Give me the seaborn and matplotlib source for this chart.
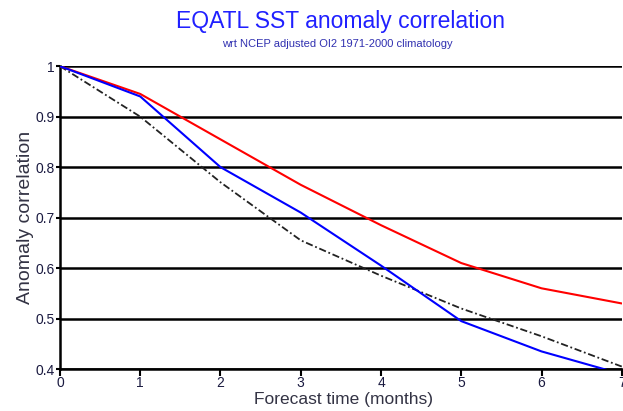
import matplotlib
matplotlib.use("Agg")
import matplotlib.pyplot as plt
import seaborn as sns
import pandas as pd

months = [0, 1, 2, 3, 4, 5, 6, 7]
red_vals = [1.0, 0.945, 0.855, 0.765, 0.685, 0.61, 0.56, 0.53]
blue_vals = [1.0, 0.94, 0.80, 0.71, 0.605, 0.495, 0.435, 0.39]
black_vals = [1.0, 0.90, 0.77, 0.655, 0.585, 0.52, 0.465, 0.405]
yticks = [0.4, 0.5, 0.6, 0.7, 0.8, 0.9, 1.0]
ytick_labels = ["0.4", "0.5", "0.6", "0.7", "0.8", "0.9", "1"]

sns.set_theme(style="white")
plt.rcParams['font.family'] = ['Liberation Sans', 'DejaVu Sans']

fig = plt.figure(figsize=(6.23, 4.11), dpi=100)
ax = fig.add_axes([0.0963, 0.102, 0.9017, 0.737])

for yv in yticks:
    ax.axhline(yv, color="black", lw=1.8, zorder=1)

df = pd.DataFrame({"month": months, "red": red_vals, "blue": blue_vals, "black": black_vals})
sns.lineplot(data=df, x="month", y="black", ax=ax, color="#222222", lw=1.3,
             linestyle=(0, (4, 1.5, 1, 1.5)), zorder=3)
sns.lineplot(data=df, x="month", y="red", ax=ax, color="#ff0000", lw=1.5, zorder=4)
sns.lineplot(data=df, x="month", y="blue", ax=ax, color="#0000ff", lw=1.5, zorder=5)

ax.set_xlim(0, 7)
ax.set_ylim(0.4, 1.0)
ax.set_xticks(months)
ax.set_xticklabels([str(m) for m in months], fontsize=10, color="#1a1a40")
ax.set_yticks(yticks)
ax.set_yticklabels(ytick_labels, fontsize=10, color="#1a1a40")
ax.tick_params(axis="x", direction="out", length=5, width=1.5, color="black", pad=0, bottom=True)
ax.tick_params(axis="y", direction="out", length=3, width=1.5, color="black", pad=1, left=True)

for s in ["top", "right"]:
    ax.spines[s].set_visible(False)
for s in ["left", "bottom"]:
    ax.spines[s].set_color("black")
    ax.spines[s].set_linewidth(1.8)

ax.set_xlabel("Forecast time (months)", fontsize=12.5, color="#333344")
ax.set_ylabel("Anomaly correlation", fontsize=14, color="#333344")
ax.xaxis.set_label_coords(0.504, -0.077)
ax.yaxis.set_label_coords(-0.046, 0.5)

fig.text(0.547, 0.947, "EQATL SST anomaly correlation", ha="center", va="center",
         fontsize=16.5, color="#2020ff")
fig.text(0.542, 0.893, "wrt NCEP adjusted OI2 1971-2000 climatology", ha="center", va="center",
         fontsize=8, color="#3030b0")

fig.savefig("out.png", dpi=100)
